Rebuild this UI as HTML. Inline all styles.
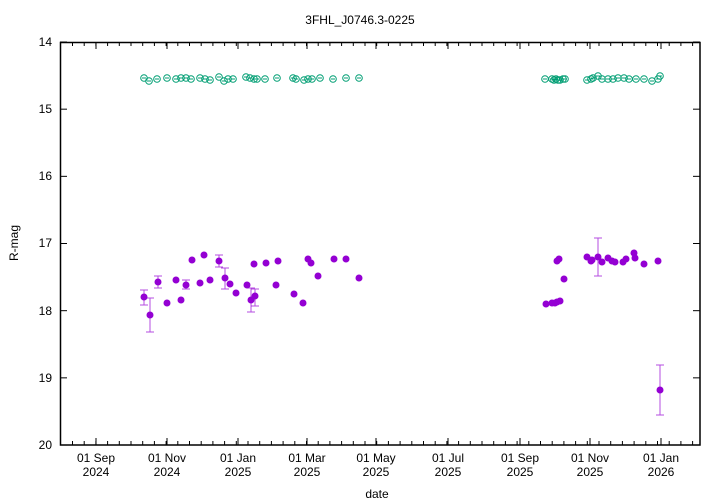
<!DOCTYPE html>
<html><head><meta charset="utf-8"><style>body{margin:0;background:#fff}svg{display:block;font-family:"Liberation Sans",sans-serif}</style></head>
<body><svg id="s" width="720" height="504" viewBox="0 0 720 504">
<rect width="720" height="504" fill="#fff"/>
<text x="360" y="24" font-size="12" text-anchor="middle">3FHL_J0746.3-0225</text>
<g font-size="12" text-anchor="end">
<text x="52" y="46">14</text><text x="52" y="113">15</text><text x="52" y="180">16</text><text x="52" y="247">17</text><text x="52" y="315">18</text><text x="52" y="382">19</text><text x="52" y="449">20</text></g>
<text transform="translate(18,243) rotate(-90)" font-size="12" text-anchor="middle">R-mag</text>
<text x="377" y="498" font-size="12" text-anchor="middle">date</text>
<g id="xl" font-size="12" text-anchor="middle"></g>
<g id="tk" stroke="#000" stroke-width="1"></g>
<g id="pts"></g>
<rect x="60.5" y="42.5" width="639.5" height="402.5" fill="none" stroke="#000" stroke-width="1.5"/>
</svg>
<script>
const NS="http://www.w3.org/2000/svg";
function el(p,t,a,txt){const e=document.createElementNS(NS,t);for(const k in a)e.setAttribute(k,a[k]);if(txt)e.textContent=txt;document.getElementById(p).appendChild(e);return e;}
const maj=[[96,"01 Sep","2024"],[167,"01 Nov","2024"],[238,"01 Jan","2025"],[307,"01 Mar","2025"],[376,"01 May","2025"],[448,"01 Jul","2025"],[520,"01 Sep","2025"],[590,"01 Nov","2025"],[661,"01 Jan","2026"]];
maj.forEach(m=>{el("xl","text",{x:m[0],y:462},m[1]);el("xl","text",{x:m[0],y:476},m[2]);
el("tk","line",{x1:m[0],y1:445,x2:m[0],y2:438});el("tk","line",{x1:m[0],y1:42,x2:m[0],y2:49});});
for(let x=72.5;x<700;x+=11.7){el("tk","line",{x1:x,y1:445,x2:x,y2:441});el("tk","line",{x1:x,y1:42,x2:x,y2:46});}
for(let i=0;i<=6;i++){const y=42+i*67.17;el("tk","line",{x1:60,y1:y,x2:67,y2:y});el("tk","line",{x1:700,y1:y,x2:693,y2:y});}
const gx=[144,149,157,167,176,181,186,191,200,205,210,219,224,228,233,246,250,254,257,265,277,293,296,304,308,312,320,333,346,359,545,552,554,556,558,560,563,565,587,591,593,598,602,608,613,618,624,629,636,644,652,658,660];
const gy=[78,81,79,78,79,78,78,79,78,79,80,77,81,79,79,77,78,79,79,79,78,78,79,80,79,79,78,79,78,78,79,79,80,79,80,80,79,79,80,79,78,76,79,79,79,78,78,79,79,79,81,79,76];
gx.forEach((x,i)=>{el("pts","circle",{cx:x,cy:gy[i],r:3.3,fill:"none",stroke:"#009e73","stroke-width":1});el("pts","line",{x1:x-2,y1:gy[i],x2:x+2,y2:gy[i],stroke:"#009e73","stroke-width":1});});
const pp=[[144,297,290,305],[150,315,298,332],[158,282,276,288],[167,303],[176,280],[181,300],[186,285,280,289],[192,260],[204,255],[200,283],[210,280],[219,261,255,267],[225,278,268,289],[230,284],[236,293],[247,285],[251,300,288,312],[255,296,289,306],[254,264],[266,263],[278,261],[276,285],[294,294],[303,303],[308,259],[311,263],[318,276],[334,259],[346,259],[359,278],
[546,304],[552,303],[555,303],[557,302],[560,301],[557,261],[559,259],[564,279],[587,257],[592,260],[598,257,238,276],[591,261],[602,262],[608,258],[612,261],[615,262],[623,262],[626,259],[634,253],[635,258],[644,264],[658,261],[660,390,365,415]];
pp.forEach(p=>{if(p[2]!==undefined){el("pts","path",{d:`M${p[0]},${p[2]}V${p[3]}M${p[0]-4},${p[2]}h8M${p[0]-4},${p[3]}h8`,stroke:"#9400d3","stroke-width":1,fill:"none",opacity:0.7});}
el("pts","circle",{cx:p[0],cy:p[1],r:3.5,fill:"#9400d3"});});
</script>
</body></html>
